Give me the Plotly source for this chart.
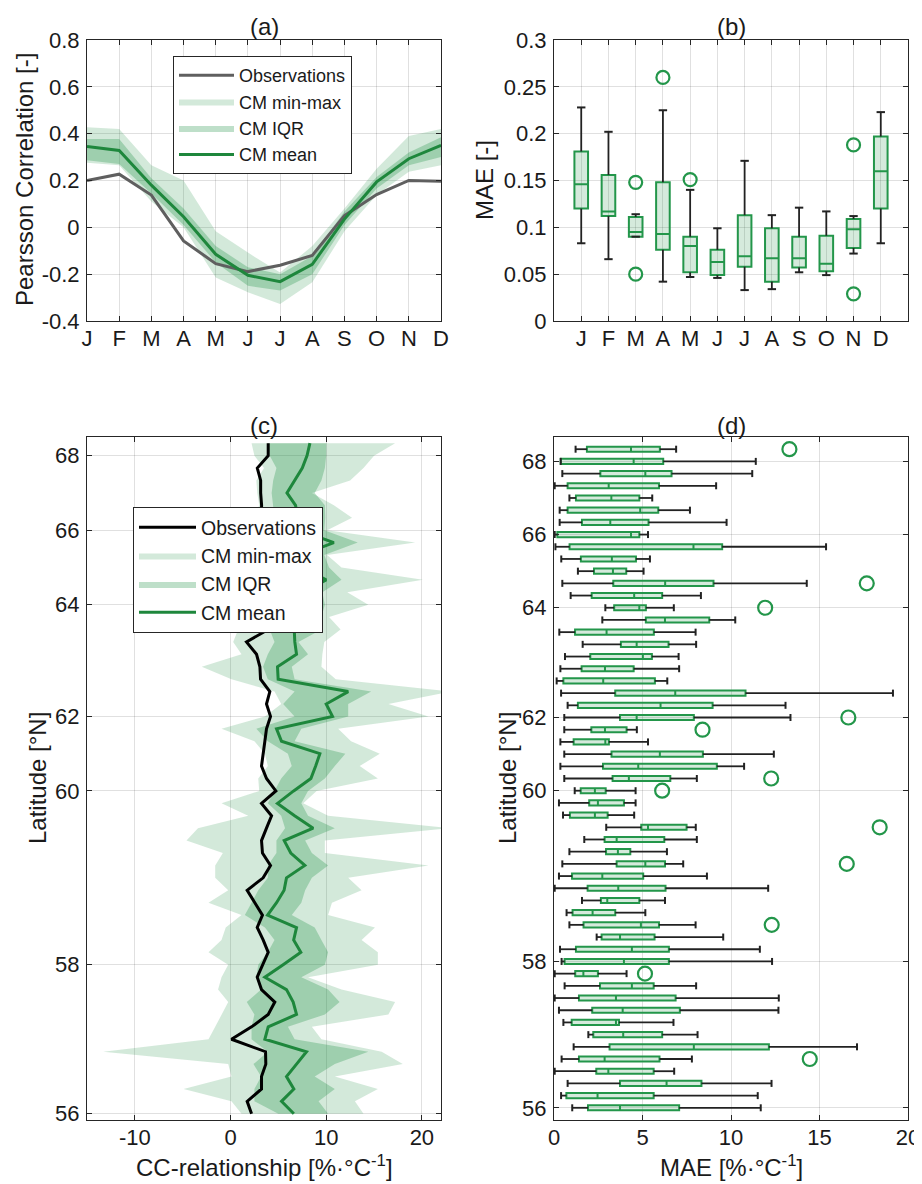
import plotly.graph_objects as go

# ---------------- Panel (a): monthly Pearson correlation ----------------
month_labels = ["J", "F", "M", "A", "M", "J", "J", "A", "S", "O", "N", "D"]
month_pos = list(range(1, 13))
a_obs = [0.200, 0.227, 0.138, -0.058, -0.155, -0.189, -0.162, -0.120, 0.050, 0.140, 0.200, 0.197]
a_mean = [0.345, 0.328, 0.180, 0.045, -0.115, -0.205, -0.232, -0.158, 0.035, 0.194, 0.293, 0.350]
a_iqr_lo = [0.286, 0.270, 0.145, 0.010, -0.150, -0.250, -0.270, -0.200, 0.010, 0.166, 0.265, 0.300]
a_iqr_hi = [0.377, 0.377, 0.210, 0.080, -0.080, -0.170, -0.200, -0.122, 0.068, 0.215, 0.320, 0.385]
a_min = [0.276, 0.265, 0.110, 0.000, -0.214, -0.277, -0.327, -0.235, -0.017, 0.138, 0.237, 0.265]
a_max = [0.427, 0.420, 0.265, 0.200, -0.017, -0.108, -0.193, -0.080, 0.080, 0.250, 0.390, 0.420]

# ---------------- Panel (b): monthly MAE boxplots ----------------
b_lo = [0.083, 0.066, 0.090, 0.042, 0.047, 0.046, 0.033, 0.034, 0.052, 0.049, 0.072, 0.083]
b_q1 = [0.120, 0.112, 0.090, 0.076, 0.052, 0.049, 0.058, 0.042, 0.057, 0.053, 0.078, 0.120]
b_med = [0.146, 0.117, 0.095, 0.093, 0.080, 0.063, 0.069, 0.067, 0.067, 0.061, 0.098, 0.160]
b_q3 = [0.181, 0.156, 0.111, 0.148, 0.090, 0.076, 0.113, 0.099, 0.090, 0.091, 0.109, 0.197]
b_hi = [0.228, 0.202, 0.114, 0.225, 0.140, 0.099, 0.171, 0.113, 0.121, 0.117, 0.112, 0.223]
b_out_pos = [3, 3, 4, 5, 11, 11]
b_out_val = [0.148, 0.050, 0.260, 0.151, 0.188, 0.029]

# ---------------- Panel (c): CC-relationship by station (sorted by latitude) ----------------
station_idx = list(range(1, 56))
lat_tick_pos = [2, 8, 14, 23, 29, 43, 55]
lat_tick_text = ["68", "66", "64", "62", "60", "58", "56"]
c_obs = [3.94, 3.94, 2.80, 3.15, 3.15, 3.25, 3.20, 3.10, 3.20, 3.00, 3.00, 2.90, 2.70, 2.55, 1.05,
         3.94, 1.67, 2.72, 3.07, 3.14, 4.11, 3.76, 4.18, 3.76, 3.59, 3.41, 3.24, 3.76, 4.74, 3.24,
         4.29, 3.76, 3.24, 3.34, 4.18, 3.41, 1.74, 2.54, 3.34, 2.79, 3.41, 3.94, 3.34, 2.79, 3.24,
         4.63, 3.94, 2.20, 0.10, 3.66, 3.69, 3.24, 3.24, 1.74, 2.20]
c_mean = [8.30, 8.00, 7.50, 6.70, 5.90, 6.80, 7.00, 7.20, 10.80, 7.40, 7.50, 10.00, 7.60, 7.70, 7.25,
          6.66, 6.72, 6.90, 4.91, 4.98, 12.30, 10.00, 10.66, 4.81, 5.33, 9.34, 8.90, 8.40, 6.60, 4.91,
          6.70, 8.64, 5.61, 6.30, 7.77, 5.85, 5.60, 4.81, 3.87, 6.90, 6.60, 7.35, 5.50, 3.59, 5.85,
          6.55, 6.90, 3.94, 3.59, 7.94, 6.90, 5.85, 6.62, 5.33, 6.62]
c_iqr_lo = [3.94, 4.10, 4.80, 4.46, 4.30, 4.46, 4.60, 4.60, 4.80, 4.60, 4.50, 4.80, 4.60, 4.60, 3.90,
            4.10, 4.60, 3.90, 3.40, 3.90, 6.70, 5.50, 6.70, 2.70, 3.90, 6.00, 6.40, 5.30, 4.60, 3.90,
            5.30, 5.70, 4.80, 4.80, 3.90, 3.90, 2.90, 2.20, 1.50, 3.60, 4.60, 3.90, 2.90, 2.70, 3.20,
            1.70, 2.50, 2.20, 2.20, 3.90, 2.40, 3.20, 2.50, 2.50, 5.00]
c_iqr_hi = [10.00, 10.00, 9.86, 9.50, 8.80, 9.86, 9.90, 9.80, 13.30, 9.80, 10.30, 11.60, 9.60, 9.86, 9.50,
            9.50, 7.10, 8.10, 6.40, 6.70, 14.70, 12.30, 12.30, 7.40, 6.70, 12.00, 10.90, 9.86, 8.10, 7.40,
            8.10, 10.90, 7.80, 8.50, 10.20, 8.50, 7.80, 7.40, 6.40, 8.80, 9.50, 10.20, 9.86, 7.40, 10.20,
            11.40, 9.86, 6.00, 6.70, 14.40, 10.90, 8.80, 10.90, 9.20, 10.20]
c_min = [2.20, 2.50, 3.50, 2.70, 2.80, 3.00, 2.50, 2.50, 2.50, 2.50, 2.50, 2.50, 2.50, 2.50, 1.50,
         0.80, 0.28, 1.15, -3.00, 0.10, 4.60, 5.30, 3.60, -0.94, 2.50, 3.60, 3.90, 2.90, 3.00, -0.94,
         1.85, -3.40, -4.60, -0.80, -1.60, -1.60, -0.24, -2.30, 1.15, -0.50, -0.94, -2.30, -0.24, -0.94, -1.30,
         -0.24, -0.94, -1.60, -2.30, -13.30, -0.24, 0.10, -4.90, 0.10, 1.15]
c_max = [17.20, 15.00, 13.90, 12.50, 8.50, 10.80, 12.70, 10.10, 19.30, 10.10, 11.60, 20.10, 12.20, 14.40, 10.30,
         11.50, 9.80, 9.60, 9.50, 11.00, 23.00, 16.50, 20.70, 11.25, 12.60, 15.60, 13.50, 15.40, 9.00, 7.60,
         10.20, 23.00, 9.86, 9.86, 20.70, 12.30, 13.70, 10.60, 10.20, 15.10, 13.70, 15.40, 15.40, 8.10, 11.60,
         17.20, 16.50, 8.50, 9.50, 15.80, 18.00, 10.90, 15.40, 13.00, 13.90]

# ---------------- Panel (d): MAE boxplots by station ----------------
d_lo = [1.22, 0.38, 0.47, 0.04, 0.87, 0.32, 0.32, 0.04, 0.08, 0.41, 1.35, 0.47, 0.94, 2.90, 2.73,
        0.30, 1.62, 0.62, 0.36, 0.15, 0.40, 0.77, 0.58, 0.58, 0.36, 0.58, 0.36, 0.58, 1.17, 0.28,
        0.51, 2.95, 1.71, 0.87, 0.47, 0.28, 0.04, 1.58, 0.71, 0.87, 2.41, 0.34, 0.43, 0.04, 0.60,
        0.04, 0.28, 0.53, 1.94, 1.11, 0.43, 0.04, 0.77, 0.40, 1.03]
d_q1 = [1.86, 0.38, 2.62, 0.77, 1.24, 0.77, 1.58, 0.19, 0.88, 1.52, 2.26, 3.35, 2.13, 3.40, 5.19,
        1.19, 3.78, 2.05, 1.56, 0.53, 3.46, 1.35, 3.73, 2.11, 1.11, 3.25, 2.77, 3.31, 1.51, 1.99,
        0.90, 4.93, 2.86, 2.94, 3.54, 1.02, 1.90, 2.65, 1.05, 1.67, 2.69, 1.24, 0.60, 1.20, 2.60,
        1.41, 2.16, 1.00, 2.22, 3.14, 1.41, 2.39, 3.73, 0.70, 1.92]
d_med = [4.35, 4.50, 5.16, 3.09, 3.24, 4.87, 3.18, 4.35, 7.88, 3.27, 3.33, 6.28, 4.53, 4.82, 6.27,
         2.97, 4.67, 5.02, 2.88, 2.78, 6.85, 6.02, 4.67, 2.88, 2.90, 5.98, 4.76, 4.23, 2.31, 2.48,
         2.31, 5.31, 3.54, 3.61, 5.16, 2.73, 3.63, 3.01, 2.18, 4.91, 3.73, 4.40, 3.95, 1.66, 4.40,
         3.50, 3.88, 3.50, 3.91, 7.90, 2.86, 3.07, 6.36, 2.46, 3.73]
d_q3 = [5.98, 6.17, 6.64, 5.93, 4.82, 5.89, 5.34, 4.82, 9.50, 4.63, 4.08, 9.01, 6.11, 5.19, 8.77,
        5.64, 6.47, 5.53, 4.50, 5.70, 10.82, 8.96, 7.90, 4.10, 3.10, 8.41, 9.20, 6.57, 2.92, 3.95,
        3.03, 7.49, 6.23, 4.31, 6.27, 5.04, 6.30, 4.82, 3.46, 5.93, 5.68, 6.49, 6.49, 2.48, 5.63,
        6.87, 7.11, 3.67, 6.11, 12.14, 5.96, 5.63, 8.33, 5.63, 7.07]
d_hi = [6.90, 11.40, 11.20, 9.16, 5.55, 7.68, 9.75, 5.31, 15.37, 5.42, 5.06, 14.28, 8.30, 6.77, 10.24,
        8.00, 8.03, 7.04, 7.07, 6.40, 19.15, 13.08, 13.36, 4.68, 5.31, 12.42, 10.74, 8.07, 4.61, 4.61,
        4.53, 8.01, 8.07, 6.38, 7.30, 8.64, 12.10, 6.27, 5.16, 8.00, 9.56, 11.63, 12.32, 4.10, 8.03,
        12.70, 12.68, 6.75, 8.11, 17.12, 7.79, 6.79, 12.29, 11.51, 11.68]
d_out_pos = [1, 12, 14, 23, 24, 28, 29, 32, 35, 40, 44, 51]
d_out_val = [13.30, 17.67, 11.93, 16.63, 8.39, 12.27, 6.11, 18.40, 16.54, 12.30, 5.14, 14.45]

# ---------------- styling ----------------
OFF = 8  # the page body adds an 8 px margin: draw a figure 8 px smaller, shifted
W, H = 922 - OFF, 1184 - OFF
FONT = "Liberation Sans, Arial, Helvetica, sans-serif"
AX = "#262626"
TXT = "#1a1a1a"
GRID = "rgba(38,38,38,0.14)"
LIGHT = "rgba(20,140,60,0.19)"
DARK = "rgba(20,140,60,0.28)"
MEAN = "#1e873c"
BOXLINE = "#23964a"
BOXFILL = "rgba(20,140,60,0.18)"


def px(x):
    return (x - OFF) / W


def py(y):
    return 1 - (y - OFF) / H


def axis(domain, anchor, **kw):
    d = dict(domain=domain, anchor=anchor, automargin=False, showline=True, linecolor=AX, linewidth=1,
             mirror="ticks", ticks="inside", ticklen=5, tickcolor=AX, showgrid=True,
             gridcolor=GRID, gridwidth=1, zeroline=False, ticklabelstandoff=2,
             tickfont=dict(size=22, color=TXT, family=FONT))
    d.update(kw)
    return d


def band(xs, lo, hi, horizontal=False):
    pos = list(xs) + list(xs)[::-1]
    val = list(hi) + list(lo)[::-1]
    return (val, pos) if horizontal else (pos, val)


def whiskers(pos, lo, q1, q3, hi, horizontal=False):
    a, b = [], []
    for p, l, q_1, q_3, h in zip(pos, lo, q1, q3, hi):
        a += [p, p, None, p, p, None]
        b += [l, q_1, None, q_3, h, None]
    return (b, a) if horizontal else (a, b)


fig = go.Figure()

# ---- (a)
bx, by = band(month_pos, a_min, a_max)
fig.add_trace(go.Scatter(x=bx, y=by, fill="toself", fillcolor=LIGHT, mode="lines",
                         line=dict(width=0), name="CM min-max", legendrank=2,
                         xaxis="x", yaxis="y", hoverinfo="skip"))
bx, by = band(month_pos, a_iqr_lo, a_iqr_hi)
fig.add_trace(go.Scatter(x=bx, y=by, fill="toself", fillcolor=DARK, mode="lines",
                         line=dict(width=0), name="CM IQR", legendrank=3,
                         xaxis="x", yaxis="y", hoverinfo="skip"))
fig.add_trace(go.Scatter(x=month_pos, y=a_obs, mode="lines", line=dict(color="#5f5f5f", width=3),
                         name="Observations", legendrank=1, xaxis="x", yaxis="y"))
fig.add_trace(go.Scatter(x=month_pos, y=a_mean, mode="lines", line=dict(color=MEAN, width=3),
                         name="CM mean", legendrank=4, xaxis="x", yaxis="y"))

# ---- (b)
wx, wy = whiskers(month_pos, b_lo, b_q1, b_q3, b_hi)
fig.add_trace(go.Scatter(x=wx, y=wy, mode="lines", line=dict(color="#222222", width=1.8),
                         showlegend=False, xaxis="x2", yaxis="y2", hoverinfo="skip"))
fig.add_trace(go.Scatter(x=month_pos + month_pos, y=b_lo + b_hi, mode="markers",
                         marker=dict(symbol="line-ew", size=6, line=dict(color="#222222", width=2)),
                         showlegend=False, xaxis="x2", yaxis="y2", hoverinfo="skip"))
fig.add_trace(go.Box(x=month_pos, q1=b_q1, median=b_med, q3=b_q3, lowerfence=b_q1, upperfence=b_q3,
                     width=0.5, whiskerwidth=0, fillcolor=BOXFILL, line=dict(color=BOXLINE, width=2),
                     boxpoints=False, showlegend=False, xaxis="x2", yaxis="y2"))
fig.add_trace(go.Scatter(x=b_out_pos, y=b_out_val, mode="markers",
                         marker=dict(symbol="circle-open", size=13, color=BOXLINE, line=dict(width=2.2)),
                         showlegend=False, xaxis="x2", yaxis="y2"))

# ---- (c)
bx, by = band(station_idx, c_min, c_max, horizontal=True)
fig.add_trace(go.Scatter(x=bx, y=by, fill="toself", fillcolor=LIGHT, mode="lines",
                         line=dict(width=0), name="CM min-max", legendrank=2, legend="legend2",
                         xaxis="x3", yaxis="y3", hoverinfo="skip"))
bx, by = band(station_idx, c_iqr_lo, c_iqr_hi, horizontal=True)
fig.add_trace(go.Scatter(x=bx, y=by, fill="toself", fillcolor=DARK, mode="lines",
                         line=dict(width=0), name="CM IQR", legendrank=3, legend="legend2",
                         xaxis="x3", yaxis="y3", hoverinfo="skip"))
fig.add_trace(go.Scatter(x=c_mean, y=station_idx, mode="lines", line=dict(color=MEAN, width=3),
                         name="CM mean", legendrank=4, legend="legend2", xaxis="x3", yaxis="y3"))
fig.add_trace(go.Scatter(x=c_obs, y=station_idx, mode="lines", line=dict(color="#000000", width=3),
                         name="Observations", legendrank=1, legend="legend2", xaxis="x3", yaxis="y3"))

# ---- (d)
wx, wy = whiskers(station_idx, d_lo, d_q1, d_q3, d_hi, horizontal=True)
fig.add_trace(go.Scatter(x=wx, y=wy, mode="lines", line=dict(color="#222222", width=1.8),
                         showlegend=False, xaxis="x4", yaxis="y4", hoverinfo="skip"))
fig.add_trace(go.Scatter(x=d_lo + d_hi, y=station_idx + station_idx, mode="markers",
                         marker=dict(symbol="line-ns", size=5, line=dict(color="#222222", width=2)),
                         showlegend=False, xaxis="x4", yaxis="y4", hoverinfo="skip"))
fig.add_trace(go.Box(y=station_idx, q1=d_q1, median=d_med, q3=d_q3, lowerfence=d_q1, upperfence=d_q3,
                     orientation="h", width=0.42, whiskerwidth=0, fillcolor=BOXFILL,
                     line=dict(color=BOXLINE, width=2), boxpoints=False, showlegend=False,
                     xaxis="x4", yaxis="y4"))
fig.add_trace(go.Scatter(x=d_out_val, y=d_out_pos, mode="markers",
                         marker=dict(symbol="circle-open", size=14, color=BOXLINE, line=dict(width=2.2)),
                         showlegend=False, xaxis="x4", yaxis="y4"))

# ---------------- layout ----------------
xa_dom = [px(87), px(441)]
xb_dom = [px(554), px(908)]
top_dom = [py(321), py(40)]
bot_dom = [py(1120), py(437)]

legend_common = dict(bgcolor="white", bordercolor=AX, borderwidth=1,
                     xanchor="left", yanchor="top", traceorder="normal")

xtick_standoff = dict(ticklabelstandoff=-2)

fig.update_layout(
    width=W, height=H, margin=dict(l=0, r=0, t=0, b=0, autoexpand=False),
    paper_bgcolor="white", plot_bgcolor="white",
    font=dict(family=FONT, color=TXT),
    showlegend=True,
    legend=dict(x=px(173), y=py(56), itemwidth=55,
                font=dict(size=18, family=FONT, color=TXT), **legend_common),
    legend2=dict(x=px(133), y=py(507), itemwidth=57,
                 font=dict(size=19.5, family=FONT, color=TXT), **legend_common),
    xaxis=axis(xa_dom, "y", range=[1, 12], tickvals=month_pos, ticktext=month_labels, **xtick_standoff),
    yaxis=axis(top_dom, "x", range=[-0.4, 0.8], tickvals=[-0.4, -0.2, 0, 0.2, 0.4, 0.6, 0.8],
               ticktext=["-0.4", "-0.2", "0", "0.2", "0.4", "0.6", "0.8"]),
    xaxis2=axis(xb_dom, "y2", range=[0, 13], tickvals=month_pos, ticktext=month_labels, **xtick_standoff),
    yaxis2=axis(top_dom, "x2", range=[0, 0.3], tickvals=[0, 0.05, 0.1, 0.15, 0.2, 0.25, 0.3],
                ticktext=["0", "0.05", "0.1", "0.15", "0.2", "0.25", "0.3"]),
    xaxis3=axis(xa_dom, "y3", range=[-15, 22], tickvals=[-10, 0, 10, 20],
                ticktext=["-10", "0", "10", "20"], **xtick_standoff),
    yaxis3=axis(bot_dom, "x3", range=[55.5, 0.5], tickvals=lat_tick_pos, ticktext=lat_tick_text),
    xaxis4=axis(xb_dom, "y4", range=[0, 20], tickvals=[0, 5, 10, 15, 20],
                ticktext=["0", "5", "10", "15", "20"], **xtick_standoff),
    yaxis4=axis(bot_dom, "x4", range=[56, 0], tickvals=lat_tick_pos, ticktext=lat_tick_text),
)

ann = []
tf = dict(size=24, family=FONT, color=TXT)
for txt, x, y in [("(a)", 264, 27), ("(b)", 731, 27), ("(c)", 264, 425), ("(d)", 731, 425)]:
    ann.append(dict(text=txt, x=px(x), y=py(y), xref="paper", yref="paper", showarrow=False,
                    xanchor="center", yanchor="middle", font=tf))
for txt, x, y in [("Pearsson Correlation [-]", 24, 180), ("MAE [-]", 484, 180),
                  ("Latitude [°N]", 37, 778), ("Latitude [°N]", 507, 778)]:
    ann.append(dict(text=txt, x=px(x), y=py(y), xref="paper", yref="paper", showarrow=False,
                    xanchor="center", yanchor="middle", textangle=-90, font=tf))
for txt, x, y in [("CC-relationship [%·°C<sup>-1</sup>]", 264, 1166), ("MAE [%·°C<sup>-1</sup>]", 731, 1166)]:
    ann.append(dict(text=txt, x=px(x), y=py(y), xref="paper", yref="paper", showarrow=False,
                    xanchor="center", yanchor="middle", font=tf))
fig.update_layout(annotations=ann)

fig.write_html("out.html")
